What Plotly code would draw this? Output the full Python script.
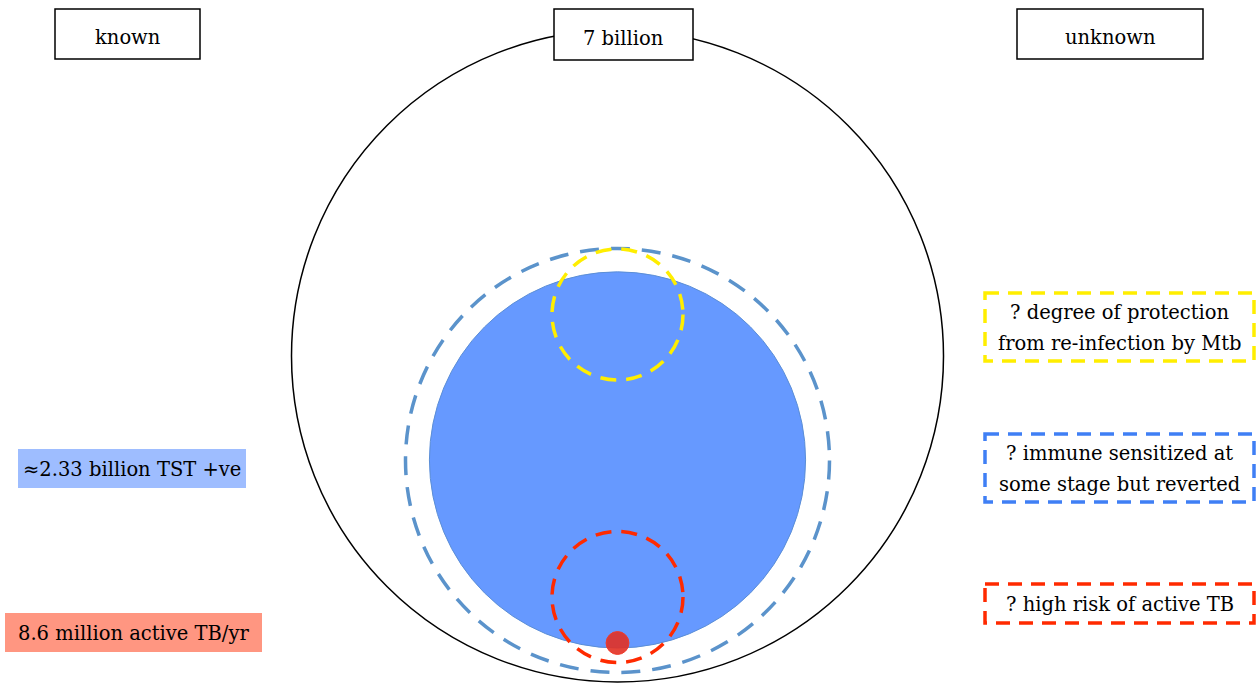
import math
import plotly.graph_objects as go

# ---- data ----
populations = [7.0e9, 2.33e9, 8.6e6]          # world, TST+ve, active TB/yr
pop_labels = ["7 billion", "≈2.33 billion TST +ve", "8.6 million active TB/yr"]
header_labels = ["known", "unknown"]
unknown_labels = [["? degree of protection", "from re-infection by Mtb"],
                  ["? immune sensitized at", "some stage but reverted"],
                  ["? high risk of active TB"]]
unknown_colors = ["#ffee00", "#3f7ff5", "#ff2a00"]

W, H = 1258, 684
FONT = "DejaVu Serif"
FS = 19.5

# ---- layout constants (pixels) ----
cx = 617.5
world_cy = 356
world_r = 326
r_of = lambda p: world_r * math.sqrt(p / populations[0])
tst_r = r_of(populations[1])
tb_r = r_of(populations[2])
tst_cy = 648 - tst_r
tb_cy = 643

shapes = []
def circle(x, y, r, **kw):
    shapes.append(dict(type="circle", xref="x", yref="y",
                       x0=x - r, x1=x + r, y0=y - r, y1=y + r, **kw))

def rect(x0, y0, x1, y1, **kw):
    shapes.append(dict(type="rect", xref="x", yref="y",
                       x0=x0, x1=x1, y0=y0, y1=y1, **kw))

circle(cx, world_cy, world_r, line=dict(color="black", width=1.5))
circle(cx, tst_cy, tst_r, fillcolor="#6699ff", line=dict(color="#5b8ed6", width=1))
circle(cx, 460.5, 212, line=dict(color="#5b93cb", width=3.5, dash="19px,12px"))
circle(cx, 314.5, 65.5, line=dict(color=unknown_colors[0], width=3.5, dash="16px,10px"))
circle(cx, 597, 65.5, line=dict(color=unknown_colors[2], width=3.5, dash="16px,10px"))
circle(cx, tb_cy, tb_r, fillcolor="rgba(226,48,36,0.9)", line=dict(color="#f03a2a", width=1))

rect(55, 9, 200, 59, fillcolor="white", line=dict(color="black", width=1.5))
rect(554, 9, 693, 60, fillcolor="white", line=dict(color="black", width=1.5))
rect(1017, 9, 1203, 59, fillcolor="white", line=dict(color="black", width=1.5))
rect(18, 449, 246, 488, fillcolor="#9ebdff", line=dict(width=0))
rect(5, 613, 262, 652, fillcolor="#ff9681", line=dict(width=0))
box_y = [(293, 361), (434, 502), (584, 623)]
for (y0, y1), col in zip(box_y, unknown_colors):
    rect(985, y0, 1254, y1, line=dict(color=col, width=3.5, dash="14px,9px"))

annotations = []
def text(x, y, s):
    annotations.append(dict(x=x, y=y, xref="x", yref="y", text=s, showarrow=False,
                            font=dict(family=FONT, size=FS, color="black"),
                            xanchor="center", yanchor="middle"))

text(127.5, 37, header_labels[0])
text(623.5, 38, pop_labels[0])
text(1110, 37, header_labels[1])
text(132, 469.5, pop_labels[1])
text(133.5, 633.5, pop_labels[2])
for (y0, y1), lines in zip(box_y, unknown_labels):
    mid = (y0 + y1) / 2 + 1
    n = len(lines)
    for i, ln in enumerate(lines):
        text(1119.5, mid + (i - (n - 1) / 2) * 31, ln)

fig = go.Figure()
fig.add_trace(go.Scatter(x=[0, W], y=[0, H], mode="markers",
                         marker=dict(opacity=0), hoverinfo="skip", showlegend=False))
fig.update_layout(
    width=W, height=H, margin=dict(l=0, r=0, t=0, b=0),
    paper_bgcolor="white", plot_bgcolor="white",
    font=dict(family=FONT),
    xaxis=dict(range=[0, W], visible=False, fixedrange=True),
    yaxis=dict(range=[H, 0], visible=False, fixedrange=True),
    shapes=shapes, annotations=annotations, showlegend=False,
)
fig.write_html("out.html", config={"displayModeBar": False},
               post_script="document.body.style.margin='0';document.body.style.overflow='hidden';")
